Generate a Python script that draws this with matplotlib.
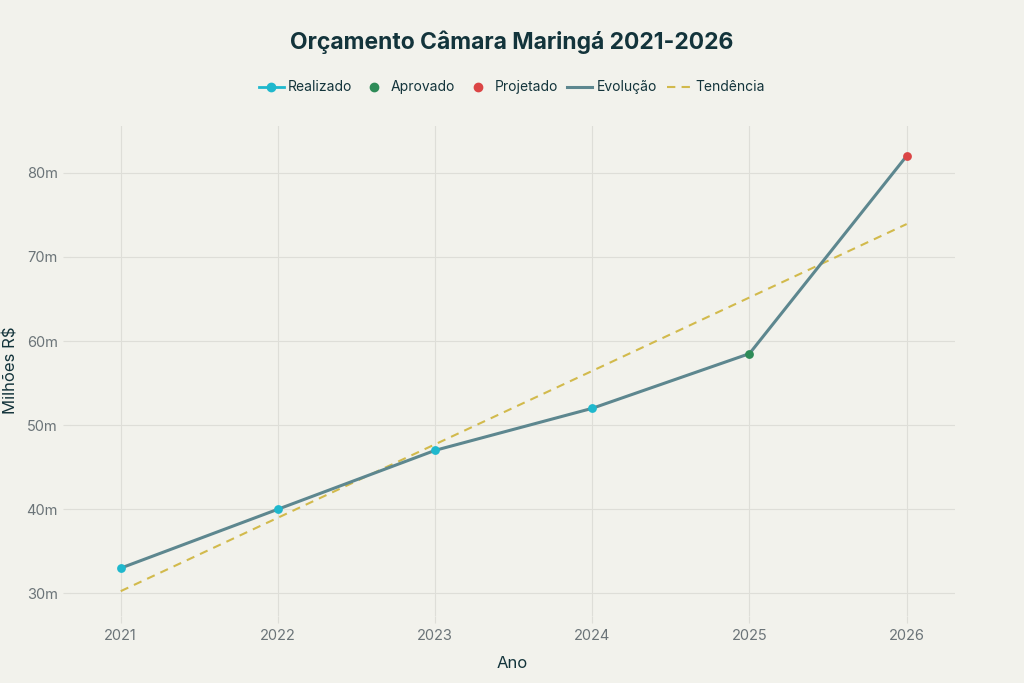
import numpy as np
import matplotlib.pyplot as plt
from matplotlib.lines import Line2D

plt.rcParams['font.family'] = ['Inter', 'DejaVu Sans']

# Dados do orçamento (milhões R$)
anos = [2021, 2022, 2023, 2024, 2025, 2026]
valores = [33, 40, 47, 52, 58.5, 82]
status = ["Realizado", "Realizado", "Realizado", "Realizado", "Aprovado", "Projetado"]

cores_status = {"Realizado": "#1FB8CD", "Aprovado": "#2E8B57", "Projetado": "#DB4545"}
cor_linha = "#5D878F"
cor_tend = "#D2BA4C"
fundo = "#F2F2EC"
grade = "#DEDED8"
texto = "#13343B"

# tendência linear
coef = np.polyfit(anos, valores, 1)
tendencia = np.polyval(coef, anos)

fig = plt.figure(figsize=(10.24, 6.83), dpi=100, facecolor=fundo)
ax = fig.add_axes([0.068, 0.098, 0.865, 0.718], facecolor=fundo)

ax.plot(anos, tendencia, color=cor_tend, lw=1.5, ls=(0, (4, 3)), zorder=2)
ax.plot(anos, valores, color=cor_linha, lw=2.2, zorder=3)
for st in ["Realizado", "Aprovado", "Projetado"]:
    xs = [a for a, s in zip(anos, status) if s == st]
    ys = [v for v, s in zip(valores, status) if s == st]
    ax.scatter(xs, ys, s=40, color=cores_status[st], zorder=4, linewidths=0)

ax.set_xlim(2020.675, 2026.31)
ax.set_ylim(27.3, 85.6)
ax.set_xticks(anos)
ax.set_yticks([30, 40, 50, 60, 70, 80])
ax.set_yticklabels([f"{v}m" for v in [30, 40, 50, 60, 70, 80]])
ax.grid(True, color=grade, lw=0.8)
ax.set_axisbelow(True)
for s in ax.spines.values():
    s.set_visible(False)
ax.tick_params(axis='both', length=5, color=grade, labelcolor="#6B7478", labelsize=10.5)
ax.tick_params(axis='x', pad=4)
ax.set_xlabel("Ano", color=texto, fontsize=12, labelpad=10)

fig.text(0.011, 0.458, "Milhões R$", rotation=90, ha='center', va='center',
         color=texto, fontsize=12)

fig.text(0.5, 0.938, "Orçamento Câmara Maringá 2021-2026", ha='center', va='center',
         fontsize=16.5, fontweight='bold', color=texto)

handles = [
    Line2D([], [], color="#1FB8CD", marker='o', lw=2, markersize=6),
    Line2D([], [], color="#2E8B57", marker='o', lw=0, markersize=6),
    Line2D([], [], color="#DB4545", marker='o', lw=0, markersize=6),
    Line2D([], [], color=cor_linha, lw=2.2),
    Line2D([], [], color=cor_tend, lw=1.5, ls=(0, (4, 3))),
]
leg = fig.legend(handles, ["Realizado", "Aprovado", "Projetado", "Evolução", "Tendência"],
                 loc='center', bbox_to_anchor=(0.5, 0.872), ncol=5, frameon=False,
                 fontsize=10, handlelength=1.8, columnspacing=0.7, handletextpad=0.3)
for t in leg.get_texts():
    t.set_color(texto)

fig.savefig("out.png", dpi=100, facecolor=fundo)
